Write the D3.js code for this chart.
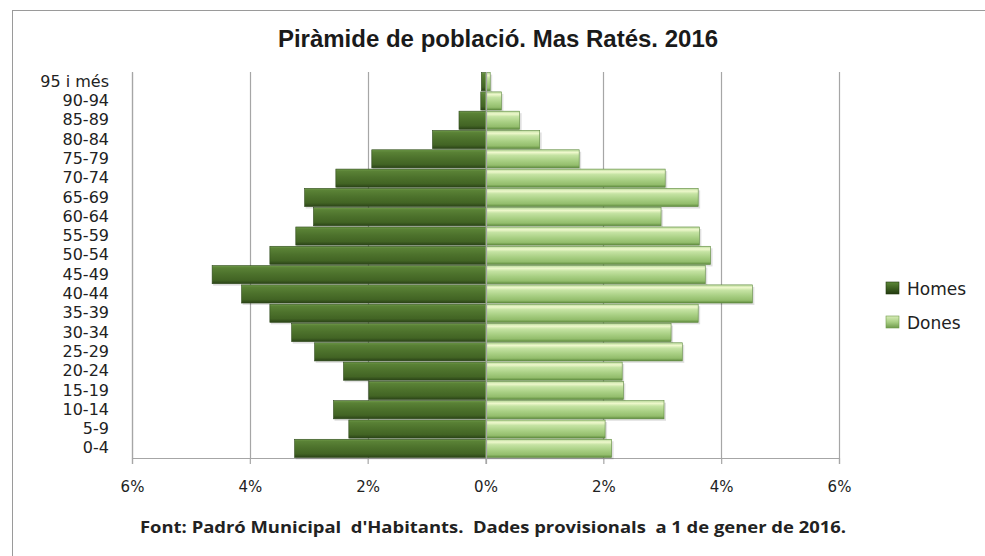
<!DOCTYPE html>
<html>
<head>
<meta charset="utf-8">
<script src="https://cdn.jsdelivr.net/npm/d3@7"></script>
<style>
  body { margin: 0; background: #fff; }
  svg { display: block; }
</style>
</head>
<body>
<svg id="chart" width="985" height="556"></svg>
<script>
// Piràmide de població - Mas Ratés 2016

var ages = ["95 i més", "90-94", "85-89", "80-84", "75-79", "70-74", "65-69", "60-64", "55-59", "50-54",
	"45-49", "40-44", "35-39", "30-34", "25-29", "20-24", "15-19", "10-14", "5-9", "0-4"];
var homes = [0.07, 0.08, 0.45, 0.90, 1.93, 2.54, 3.07, 2.92, 3.22, 3.66,
	4.64, 4.14, 3.66, 3.29, 2.90, 2.41, 1.98, 2.58, 2.32, 3.24];
var dones = [0.08, 0.27, 0.58, 0.92, 1.59, 3.05, 3.61, 2.98, 3.63, 3.82,
	3.73, 4.53, 3.61, 3.15, 3.34, 2.32, 2.34, 3.03, 2.03, 2.14];
var ticks = [-6, -4, -2, 0, 2, 4, 6];
var series = ["Homes", "Dones"];

var svg = d3.select("#chart");
var plotLeft = 132, plotRight = 839, plotTop = 72, plotBottom = 458;

var x = d3.scaleLinear().domain([-6, 6]).range([plotLeft, plotRight]);
var y = d3.scaleBand().domain(ages).range([plotTop, plotBottom]).paddingInner(0.06).paddingOuter(0.03);

// gradients for the bevelled bars
var defs = svg.append("defs");
function vgrad(id, stops) {
	var g = defs.append("linearGradient").attr("id", id)
		.attr("x1", 0).attr("y1", 0).attr("x2", 0).attr("y2", 1);
	stops.forEach(s => g.append("stop").attr("offset", s[0]).attr("stop-color", s[1]));
}
vgrad("gHomes", [[0, "#6f9a49"], [0.12, "#5a8236"], [0.45, "#4d722c"], [0.8, "#426424"], [1, "#2a4217"]]);
vgrad("gDones", [[0, "#b9d99a"], [0.15, "#eef8cc"], [0.3, "#c5e3a3"], [0.6, "#a8cf83"], [0.85, "#93bd6c"], [1, "#5e8a3d"]]);
vgrad("gHomesLeg", [[0, "#5d8839"], [0.5, "#3f6222"], [1, "#22390f"]]);
vgrad("gDonesLeg", [[0, "#d8ecb8"], [0.5, "#a9cf84"], [1, "#6f9a4b"]]);

// chart frame (only top and left visible in the picture)
svg.append("line").attr("x1", 12).attr("x2", 985).attr("y1", 10.5).attr("y2", 10.5)
	.attr("stroke", "#9a9a9a").attr("stroke-width", 1);
svg.append("line").attr("x1", 12.5).attr("x2", 12.5).attr("y1", 10).attr("y2", 556)
	.attr("stroke", "#9a9a9a").attr("stroke-width", 1);

// gridlines
svg.append("g").selectAll("line").data(ticks).enter().append("line")
	.attr("x1", d => Math.round(x(d)) + 0.5).attr("x2", d => Math.round(x(d)) + 0.5)
	.attr("y1", plotTop).attr("y2", plotBottom)
	.attr("stroke", "#a6a6a6").attr("stroke-width", 1.2);

// x axis
var xAxis = d3.axisBottom(x).tickValues(ticks).tickSize(6).tickPadding(17)
	.tickFormat(d => Math.abs(d) + "%");
var gx = svg.append("g").attr("transform", "translate(0," + plotBottom + ")").call(xAxis);
gx.select(".domain").attr("stroke", "#a6a6a6").attr("stroke-width", 1.2);
gx.selectAll(".tick line").attr("stroke", "#a6a6a6").attr("stroke-width", 1.2);
gx.selectAll("text").attr("fill", "#222").attr("font-family", "DejaVu Sans").attr("font-size", 15);

// y axis (labels at the low end)
var yAxis = d3.axisLeft(y).tickSize(0).tickPadding(23);
var gy = svg.append("g").attr("transform", "translate(" + plotLeft + ",0)").call(yAxis);
gy.select(".domain").attr("stroke", "#a6a6a6").attr("stroke-width", 1.2);
gy.selectAll("text").attr("fill", "#222").attr("font-family", "DejaVu Sans").attr("font-size", 16);

// bars
var rows = ages.map((a, i) => ({age: a, h: homes[i], d: dones[i]}));
var bars = svg.append("g");

// soft shadow
bars.selectAll("rect.shH").data(rows).enter().append("rect")
	.attr("x", d => x(-d.h) + 1).attr("y", d => y(d.age) + 2)
	.attr("width", d => x(0) - x(-d.h)).attr("height", y.bandwidth())
	.attr("fill", "#000").attr("opacity", 0.12);
bars.selectAll("rect.shD").data(rows).enter().append("rect")
	.attr("x", x(0) + 1).attr("y", d => y(d.age) + 2)
	.attr("width", d => x(d.d) - x(0) + 1).attr("height", y.bandwidth())
	.attr("fill", "#000").attr("opacity", 0.12);

bars.selectAll("rect.h").data(rows).enter().append("rect")
	.attr("x", d => x(-d.h)).attr("y", d => y(d.age))
	.attr("width", d => x(0) - x(-d.h)).attr("height", y.bandwidth())
	.attr("fill", "url(#gHomes)")
	.attr("stroke", "#2f4a1c").attr("stroke-width", 0.6);
bars.selectAll("rect.d").data(rows).enter().append("rect")
	.attr("x", x(0)).attr("y", d => y(d.age))
	.attr("width", d => x(d.d) - x(0)).attr("height", y.bandwidth())
	.attr("fill", "url(#gDones)")
	.attr("stroke", "#5f8a3f").attr("stroke-width", 0.6);

// zero line over bars
svg.append("line").attr("x1", Math.round(x(0)) + 0.5).attr("x2", Math.round(x(0)) + 0.5)
	.attr("y1", plotTop).attr("y2", plotBottom + 6)
	.attr("stroke", "#a6a6a6").attr("stroke-width", 1.2);

// title
svg.append("text").attr("x", 498).attr("y", 47).attr("text-anchor", "middle")
	.attr("font-family", "Liberation Sans").attr("font-weight", "bold").attr("font-size", 24)
	.attr("fill", "#1a1a1a")
	.text("Piràmide de població. Mas Ratés. 2016");

// source note
svg.append("text").attr("x", 493).attr("y", 533).attr("text-anchor", "middle")
	.attr("font-family", "Open Sans").attr("font-weight", "bold").attr("font-size", 16)
	.attr("textLength", 706).attr("lengthAdjust", "spacingAndGlyphs")
	.attr("fill", "#222").attr("xml:space", "preserve")
	.text("Font: Padró Municipal  d'Habitants.  Dades provisionals  a 1 de gener de 2016.");

// legend
var leg = svg.append("g").selectAll("g").data(series).enter().append("g")
	.attr("transform", (d, i) => "translate(886," + (282 + i * 34) + ")");
leg.append("rect").attr("width", 13).attr("height", 12)
	.attr("fill", d => d == "Homes" ? "url(#gHomesLeg)" : "url(#gDonesLeg)")
	.attr("stroke", d => d == "Homes" ? "#22390f" : "#6f9a4b").attr("stroke-width", 0.6);
leg.append("text").attr("x", 21).attr("y", 7).attr("dy", "0.35em")
	.attr("font-family", "DejaVu Sans").attr("font-size", 17).attr("fill", "#222")
	.text(d => d);
</script>
</body>
</html>
